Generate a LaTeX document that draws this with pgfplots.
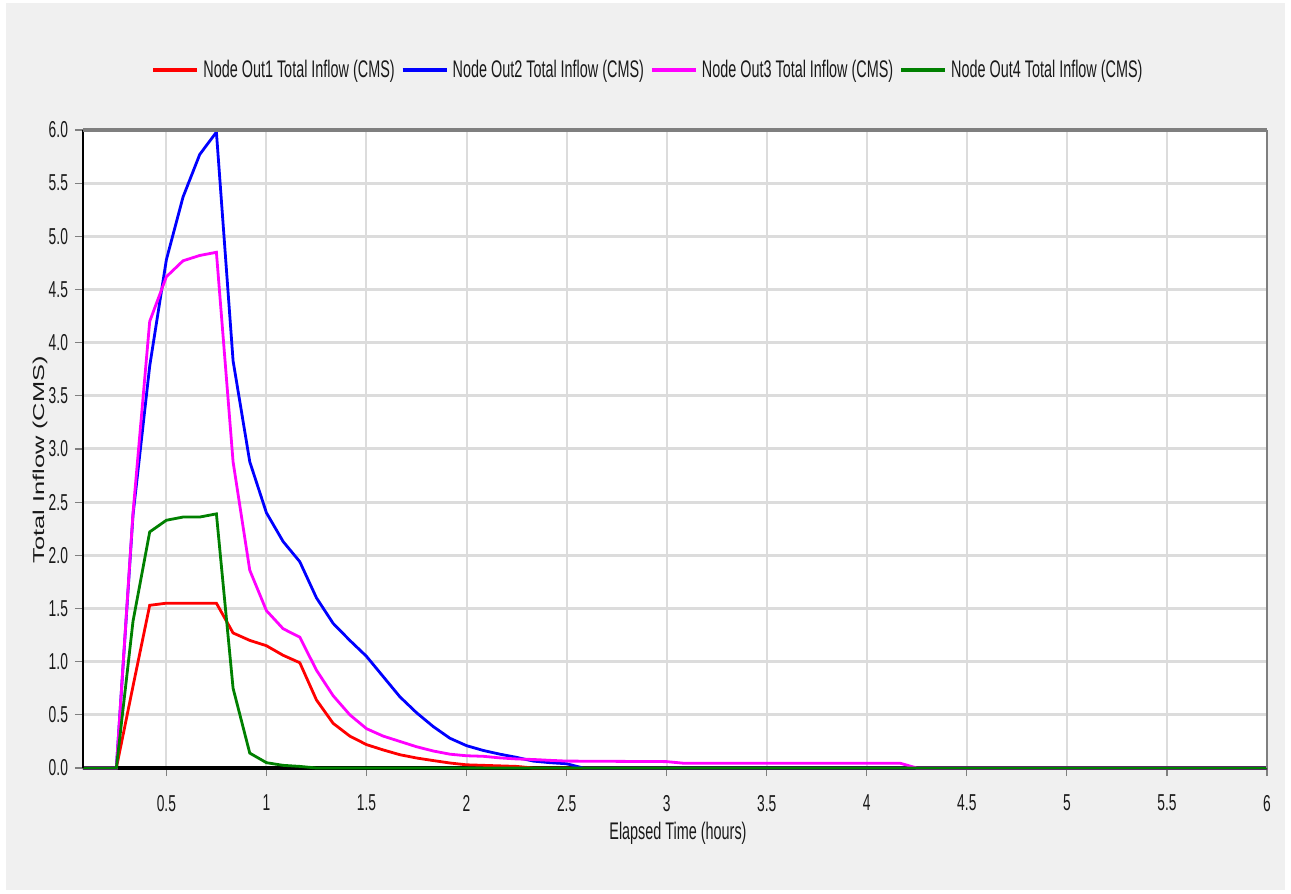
\documentclass[border=0pt]{standalone}
\usepackage{graphicx}
\usepackage{fontspec}
\setmainfont{Liberation Sans}[FakeStretch=0.6]
\newfontfamily\ylabfont{Liberation Sans}
\usepackage{pgfplots}
\pgfplotsset{compat=1.18}
\usetikzlibrary{backgrounds}

\definecolor{bgGray}{HTML}{F0F0F0}
\definecolor{gridGray}{HTML}{DCDCDC}
\definecolor{frameGray}{HTML}{7F7F7F}
\definecolor{swRed}{HTML}{FF0000}
\definecolor{swBlue}{HTML}{0000FF}
\definecolor{swPink}{HTML}{FF00FF}
\definecolor{swGreen}{HTML}{008000}

\begin{document}
\begin{tikzpicture}
\begin{axis}[
    name=ax,
    scale only axis,
    width=592pt, height=319pt,
    xmin=0.0833333, xmax=6,
    ymin=0, ymax=6,
    clip=false,
    axis background/.style={fill=white},
    axis line style={draw=none},
    xtick={0.5,1,1.5,2,2.5,3,3.5,4,4.5,5,5.5,6},
    ytick={0,0.5,1,1.5,2,2.5,3,3.5,4,4.5,5,5.5,6},
    tick pos=left,
    tick align=outside,
    major tick length=4pt,
    tick style={frameGray, line width=0.6pt},
    grid=major,
    x grid style={gridGray, line width=1pt},
    y grid style={gridGray, line width=1.5pt},
    /pgf/number format/assume math mode=true,
    ticklabel style={font=\fontsize{11.5}{13}\selectfont, text=black!90},
    yticklabel style={/pgf/number format/.cd, fixed, fixed zerofill, precision=1},
    xticklabel style={yshift=-6pt, /pgf/number format/.cd, fixed},
    xlabel={Elapsed Time (hours)},
    xlabel style={at={(axis description cs:0.5025,-0.1019)}, anchor=center,
                  font=\fontsize{12}{14}\selectfont, text=black!90},
    ylabel={\ylabfont\fontsize{12.7}{14}\selectfont\scalebox{1}[0.62]{Total Inflow (CMS)}},
    ylabel style={at={(axis description cs:-0.0363,0.483)}, anchor=center, text=black!90},
    legend columns=4,
    legend style={at={(0.478,1.094)}, anchor=center, draw=none, fill=none,
                  font=\fontsize{12}{14}\selectfont, text=black!90,
                  /tikz/every even column/.append style={column sep=1pt}},
    legend image code/.code={\draw[#1, line width=2pt] (0pt,0pt) -- (22pt,0pt);},
    every axis plot/.append style={line width=1.4pt},
]
  % bottom axis line sits under the series
  \draw[black, line width=1.6pt] (rel axis cs:0,0) -- (rel axis cs:1,0);

  \addplot[swRed] coordinates {
    (0.0833,0) (0.25,0) (0.3333,0.77) (0.4167,1.53) (0.5,1.55) (0.5833,1.55)
    (0.6667,1.55) (0.75,1.55) (0.8333,1.27) (0.9167,1.20) (1.0,1.15)
    (1.0833,1.06) (1.1667,0.99) (1.25,0.64) (1.3333,0.42) (1.4167,0.30)
    (1.5,0.22) (1.5833,0.17) (1.6667,0.125) (1.75,0.094) (1.8333,0.07)
    (1.9167,0.047) (2.0,0.03) (2.0833,0.025) (2.1667,0.02) (2.25,0.015)
    (2.3333,0) (6,0)
  };
  \addlegendentry{Node Out1 Total Inflow (CMS)}

  \addplot[swBlue] coordinates {
    (0.0833,0) (0.25,0) (0.3333,2.38) (0.4167,3.78) (0.5,4.78) (0.5833,5.37)
    (0.6667,5.77) (0.75,5.98) (0.8333,3.83) (0.9167,2.88) (1.0,2.40)
    (1.0833,2.13) (1.1667,1.94) (1.25,1.60) (1.3333,1.36) (1.4167,1.20)
    (1.5,1.05) (1.5833,0.86) (1.6667,0.67) (1.75,0.52) (1.8333,0.39)
    (1.9167,0.28) (2.0,0.21) (2.0833,0.165) (2.1667,0.13) (2.25,0.10)
    (2.3333,0.065) (2.4167,0.05) (2.5,0.04) (2.5833,0) (6,0)
  };
  \addlegendentry{Node Out2 Total Inflow (CMS)}

  \addplot[swPink] coordinates {
    (0.0833,0) (0.25,0) (0.3333,2.40) (0.4167,4.20) (0.5,4.62) (0.5833,4.77)
    (0.6667,4.82) (0.75,4.85) (0.8333,2.88) (0.9167,1.86) (1.0,1.48)
    (1.0833,1.31) (1.1667,1.23) (1.25,0.92) (1.3333,0.68) (1.4167,0.50)
    (1.5,0.37) (1.5833,0.30) (1.6667,0.25) (1.75,0.20) (1.8333,0.16)
    (1.9167,0.13) (2.0,0.115) (2.0833,0.11) (2.1667,0.095) (2.25,0.085)
    (2.3333,0.08) (2.4167,0.072) (2.5,0.065) (3.0,0.06) (3.0833,0.045)
    (4.1667,0.045) (4.25,0) (6,0)
  };
  \addlegendentry{Node Out3 Total Inflow (CMS)}

  \addplot[swGreen] coordinates {
    (0.0833,0) (0.25,0) (0.3333,1.38) (0.4167,2.22) (0.5,2.33) (0.5833,2.36)
    (0.6667,2.36) (0.75,2.39) (0.8333,0.75) (0.9167,0.14) (1.0,0.05)
    (1.0833,0.025) (1.1667,0.015) (1.25,0) (6,0)
  };
  \addlegendentry{Node Out4 Total Inflow (CMS)}

  % frame lines on top
  \draw[black, line width=1pt] (rel axis cs:0,0) -- (rel axis cs:0,1);
  \draw[frameGray, line width=1pt] (rel axis cs:1,0) -- (rel axis cs:1,1);
  \draw[frameGray, line width=2pt] (rel axis cs:0,1) -- (rel axis cs:1,1);
\end{axis}

\begin{scope}[on background layer]
  \fill[white] (-41.5pt,-63pt) rectangle (604pt,384pt);
  \fill[bgGray] (-38.5pt,-61pt) rectangle (601pt,382.5pt);
\end{scope}
\pgfresetboundingbox
\path[use as bounding box] (-41.5pt,-63pt) rectangle (604pt,384pt);
\end{tikzpicture}
\end{document}
